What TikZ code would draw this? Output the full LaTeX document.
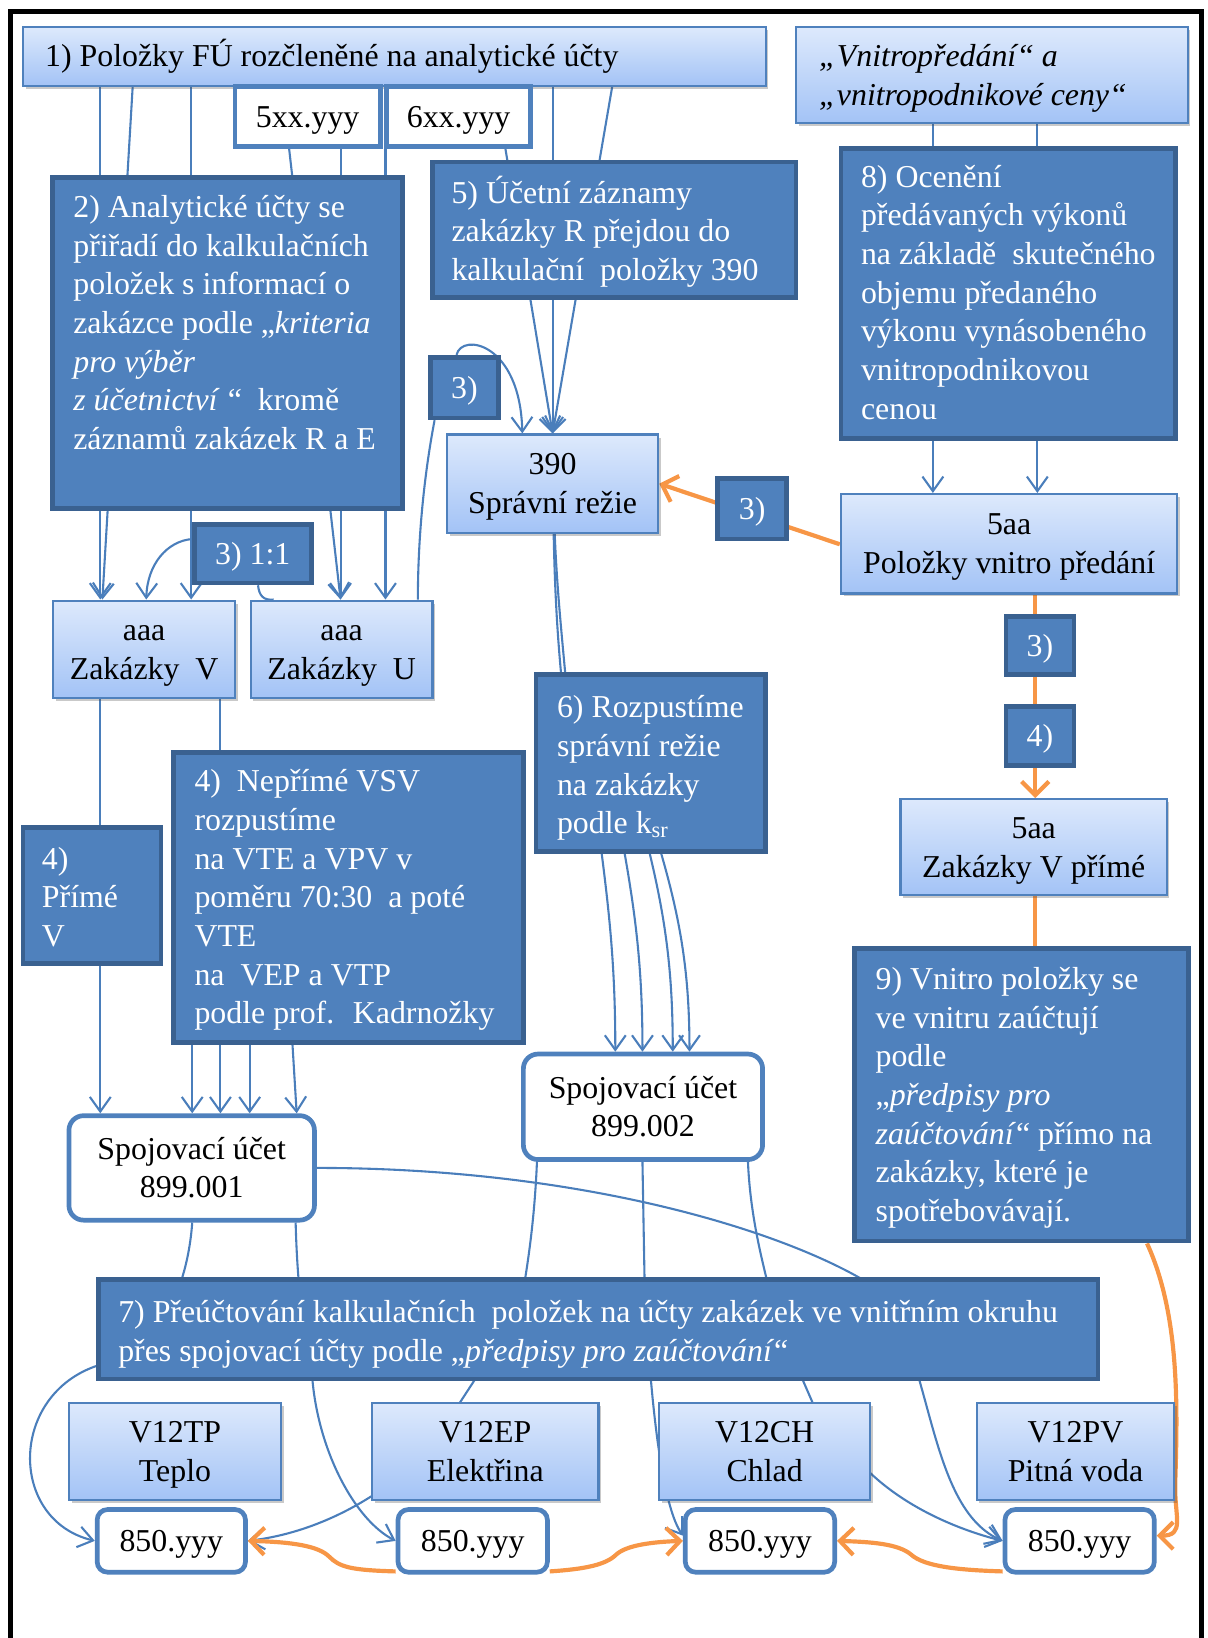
\documentclass[tikz,border=0pt]{standalone}
\usepackage{fontspec}
\setmainfont{Liberation Serif}
\usetikzlibrary{arrows.meta,fit,shadows}
\pgfdeclarelayer{bg}
\pgfsetlayers{bg,main}

\definecolor{darkfill}{HTML}{4F81BD}
\definecolor{darkedge}{HTML}{3A6190}
\definecolor{lighttop}{HTML}{DDE9FC}
\definecolor{lightbot}{HTML}{A3C3F6}
\definecolor{boxedge}{HTML}{4F81BD}
\definecolor{lineblue}{HTML}{4A7EBB}
\definecolor{orangeline}{HTML}{F79646}

\tikzset{
  txt/.style={font=\fontsize{30.5pt}{37pt}\selectfont, inner sep=0pt},
  darkbox/.style={draw=darkedge, line width=4.5pt, fill=darkfill, inner sep=0pt},
  lightbox/.style={draw=boxedge, line width=2.2pt, top color=lighttop, bottom color=lightbot, inner sep=0pt,
     drop shadow={shadow xshift=2.5pt, shadow yshift=-3pt, opacity=0.3, fill=black!70}},
  codebox/.style={draw=boxedge, line width=4.5pt, fill=white, inner sep=0pt},
  accbox/.style={codebox, rounded corners=14pt},
  notebox/.style={codebox, rounded corners=10pt},
  wtext/.style={txt, text=white, align=left, anchor=north west},
  btext/.style={txt, text=black, align=left},
  itext/.style={btext, font=\fontsize{30.5pt}{37pt}\selectfont\itshape},
  % centred captions: one line or two lines around the box centre
  cline/.style={txt, align=center, anchor=north, yshift=16pt},
  cpair/.style={txt, align=center, anchor=north, yshift=34.5pt},
  link/.style={draw=lineblue, line width=2pt},
  arr/.style={link, -{Straight Barb[length=14pt,width=20pt]}},
  olink/.style={draw=orangeline, line width=4pt},
  oarr/.style={olink, -{Straight Barb[length=13pt,width=26pt]}},
}

\begin{document}
\begin{tikzpicture}[x=1pt, y=-1pt]
\useasboundingbox (0,0) rectangle (1156,1568);

% outer frame
\draw[line width=5pt] (10,1570) -- (10,11) -- (1150,11) -- (1150,1570);

% ---------- boxes ----------
\node[lightbox, fit={(22,26) (733,82)}] (b1) {};
\node[btext, anchor=west] (b1t) at (43,54) {1) Položky FÚ rozčleněné na analytické účty};

\node[lightbox, fit={(762,26) (1137,118)}] (vn) {};
\node[itext, anchor=north west] (vnt) at (784,38) {\strut„Vnitropředání“ a\\„vnitropodnikové ceny“};

\node[codebox, fit={(225,83) (364,140)}] (c5) {};
\node[cline] (c5t) at (c5) {\strut 5xx.yyy};
\node[codebox, fit={(370,83) (508,140)}] (c6) {};
\node[cline] (c6t) at (c6) {\strut 6xx.yyy};

\node[darkbox, fit={(50,170) (385,487)}] (b2) {};
\node[wtext] (b2t) at (70,182) {\strut 2) Analytické účty se\\přiřadí do kalkulačních\\položek s informací o\\zakázce podle „\textit{kriteria}\\\textit{pro výběr}\\\textit{z účetnictví} “~ kromě\\záznamů zakázek R a E};

\node[darkbox, fit={(414,155) (762,285)}] (b5) {};
\node[wtext] (b5t) at (432,168) {\strut 5) Účetní záznamy\\zakázky R přejdou do\\kalkulační~ položky 390};

\node[darkbox, fit={(805,142) (1125,420)}] (b8) {};
\node[wtext] (b8t) at (824,153) {\strut 8) Ocenění\\předávaných výkonů\\na základě~ skutečného\\objemu předaného\\výkonu vynásobeného\\vnitropodnikovou\\cenou};

\node[darkbox, fit={(412,342) (477,400)}] (t3a) {};
\node[cline, text=white] (t3at) at (t3a) {\strut 3)};
\node[lightbox, fit={(428,416) (630,510)}] (n390) {};
\node[cpair] (n390t) at (n390) {\strut 390\\Správní režie};
\node[darkbox, fit={(687,458) (753,516)}] (t3b) {};
\node[cline, text=white] (t3bt) at (t3b) {\strut 3)};
\node[lightbox, fit={(805,473) (1127,568)}] (p5aa) {};
\node[cpair] (p5aat) at (p5aa) {\strut 5aa\\Položky vnitro předání};
\node[darkbox, fit={(186,502) (298,558)}] (t31) {};
\node[cline, text=white] (t31t) at (t31) {\strut 3) 1:1};
\node[lightbox, fit={(51,575) (225,668)}] (zakV) {};
\node[cpair] (zakVt) at (zakV) {\strut aaa\\Zakázky~ V};
\node[lightbox, fit={(240,575) (414,668)}] (zakU) {};
\node[cpair] (zakUt) at (zakU) {\strut aaa\\Zakázky~ U};
\node[darkbox, fit={(963,590) (1028,646)}] (t3c) {};
\node[cline, text=white] (t3ct) at (t3c) {\strut 3)};

\node[darkbox, fit={(513,646) (733,815)}] (b6) {};
\node[wtext] (b6t) at (533,661) {\strut 6) Rozpustíme\\správní režie\\na zakázky\\podle k\textsubscript{sr}};

\node[darkbox, fit={(963,676) (1028,733)}] (t4d) {};
\node[cline, text=white] (t4dt) at (t4d) {\strut 4)};
\node[lightbox, fit={(862,765) (1117,857)}] (v5aa) {};
\node[cpair] (v5aat) at (v5aa) {\strut 5aa\\Zakázky V přímé};

\node[darkbox, fit={(22,792) (154,922)}] (b4p) {};
\node[wtext] (b4pt) at (40,806) {\strut 4)\\Přímé\\V};

\node[darkbox, fit={(166,720) (501,998)}] (b4n) {};
\node[wtext] (b4nt) at (186,732) {\strut 4)~ Nepřímé VSV\\rozpustíme\\na VTE a VPV v\\poměru 70:30~ a poté\\VTE\\na~ VEP a VTP\\podle prof.~ Kadrnožky};

\node[darkbox, fit={(818,908) (1138,1188)}] (b9) {};
\node[wtext] (b9t) at (838,921) {\strut 9) Vnitro položky se\\ve vnitru zaúčtují\\podle\\„\textit{předpisy pro}\\\textit{zaúčtování}“ přímo na\\zakázky, které je\\spotřebovávají.};

\node[accbox, fit={(501,1009) (730,1110)}] (s2) {};
\node[cpair] (s2t) at (s2) {\strut Spojovací účet\\899.002};
\node[accbox, fit={(66,1068) (301,1168)}] (s1) {};
\node[cpair] (s1t) at (s1) {\strut Spojovací účet\\899.001};

\node[darkbox, fit={(94,1225) (1051,1320)}] (b7) {};
\node[wtext] (b7t) at (113,1240) {\strut 7) Přeúčtování kalkulačních~ položek na účty zakázek ve vnitřním okruhu\\přes spojovací účty podle „\textit{předpisy pro zaúčtování}“};

\node[lightbox, fit={(66,1343) (269,1436)}] (v1) {};
\node[cpair] (v1t) at (v1) {\strut V12TP\\Teplo};
\node[lightbox, fit={(356,1343) (573,1436)}] (v2) {};
\node[cpair] (v2t) at (v2) {\strut V12EP\\Elektřina};
\node[lightbox, fit={(631,1343) (833,1436)}] (v3) {};
\node[cpair] (v3t) at (v3) {\strut V12CH\\Chlad};
\node[lightbox, fit={(935,1343) (1124,1436)}] (v4) {};
\node[cpair] (v4t) at (v4) {\strut V12PV\\Pitná voda};

\node[notebox, fit={(93,1445) (235,1505)}] (a1) {};
\node[cline] (a1t) at (a1) {\strut 850.yyy};
\node[notebox, fit={(381,1445) (524,1505)}] (a2) {};
\node[cline] (a2t) at (a2) {\strut 850.yyy};
\node[notebox, fit={(656,1445) (799,1505)}] (a3) {};
\node[cline] (a3t) at (a3) {\strut 850.yyy};
\node[notebox, fit={(962,1445) (1105,1505)}] (a4) {};
\node[cline] (a4t) at (a4) {\strut 850.yyy};

% ---------- connectors (behind the boxes) ----------
\begin{pgfonlayer}{bg}
% analytic accounts to the orders
\draw[arr] (b1.south -| 96,0) -- (zakV.north -| 96,0);
\draw[arr] (b1.south -| 127,0) -- (zakV.north -| 98,0);
\draw[arr] (b1.south -| 183,0) -- (zakV.north -| 183,0);
\draw[arr] (b1.south -| 270,0) -- (zakU.north -| 326,0);
\draw[arr] (b1.south -| 326,0) -- (zakU.north -| 326,0);
\draw[arr] (b1.south -| 369,0) -- (zakU.north -| 369,0);
% R records to item 390
\draw[arr] (b1.south -| 474,0) -- (n390.north);
\draw[arr] (b1.south -| 529,0) -- (n390.north);
\draw[arr] (b1.south -| 586,0) -- (n390.north);
\draw[arr] (t3a.north -| 437,0) .. controls (442,318) and (498,328) .. (n390.north -| 500,0);
\draw[link] (t3a.south -| 416,0) .. controls (405,460) and (400,520) .. (zakU.north -| 400,0);
% 1:1 step
\draw[arr] (t31.west |- 0,516) .. controls (160,518) and (141,540) .. (zakV.north -| 140,0);
\draw[link] (t31.south -| 247,0) .. controls (248,570) and (252,575) .. (zakU.north -| 262,0);
% internal prices
\draw[arr] (vn.south -| 893,0) -- (p5aa.north -| 893,0);
\draw[arr] (vn.south -| 993,0) -- (p5aa.north -| 993,0);
% overheads dissolved
\draw[link] (n390.south -| 530,0) .. controls (531,560) and (533,600) .. (b6.north -| 537,0);
\draw[link] (n390.south -| 531,0) .. controls (533,560) and (537,600) .. (b6.north -| 541,0);
\draw[arr] (b6.south -| 576,0) .. controls (584,880) and (589,930) .. (s2.north -| 589,0);
\draw[arr] (b6.south -| 598,0) .. controls (609,880) and (615,930) .. (s2.north -| 615,0);
\draw[arr] (b6.south -| 622,0) .. controls (637,880) and (644,930) .. (s2.north -| 644,0);
\draw[arr] (b6.south -| 633,0) .. controls (651,880) and (660,930) .. (s2.north -| 660,0);
% direct and indirect costs
\draw[arr] (zakV.south -| 96,0) -- (s1.north -| 96,0);
\draw[arr] (zakV.south -| 211,0) -- (s1.north -| 211,0);
\draw[arr] (b4n.south -| 184,0) -- (s1.north -| 184,0);
\draw[arr] (b4n.south -| 239,0) -- (s1.north -| 239,0);
\draw[arr] (b4n.south -| 280,0) -- (s1.north -| 284,0);
% transfers to the order accounts
\draw[arr] (s1.south -| 184,0) .. controls (182,1200) and (170,1290) .. (94,1307)
   .. controls (8,1335) and (8,1455) .. (a1.west |- 0,1475);
\draw[arr] (s1.south -| 283,0) .. controls (285,1250) and (295,1300) .. (299,1320)
   .. controls (305,1390) and (340,1455) .. (a2.west |- 0,1475);
\draw[arr] (s1.east |- 0,1118) .. controls (550,1118) and (740,1175) .. (826,1225)
   .. controls (895,1265) and (880,1440) .. (a4.west |- 0,1475);
\draw[arr] (s2.south -| 514,0) .. controls (512,1160) and (507,1200) .. (500,1240)
   -- (455,1320) -- (440,1343) -- (356,1432)
   .. controls (320,1455) and (280,1470) .. (a1.east |- 0,1475);
\draw[arr] (s2.south -| 615,0) -- (617,1225) -- (623,1320)
   .. controls (630,1400) and (640,1450) .. (a3.west |- 0,1470);
\draw[arr] (s2.south -| 716,0) .. controls (718,1160) and (728,1200) .. (734,1225)
   -- (768,1320) -- (778,1343) -- (833,1410)
   .. controls (870,1445) and (920,1465) .. (a4.west |- 0,1475);
% internal transfers (orange)
\draw[oarr] (p5aa.west |- 0,521) -- (n390.east |- 0,463);
\draw[oarr] (p5aa.south -| 991,0) -- (v5aa.north -| 991,0);
\draw[olink] (v5aa.south -| 991,0) -- (b9.north -| 991,0);
\draw[oarr] (b9.south -| 1098,0) .. controls (1130,1260) and (1127,1350) .. (1125,1420)
   .. controls (1124,1452) and (1135,1470) .. (a4.east |- 0,1470);
\draw[oarr] ([yshift=3pt]a2.south west) .. controls (335,1503) and (325,1500) .. (315,1490)
   .. controls (305,1480) and (280,1476) .. (a1.east |- 0,1475);
\draw[oarr] ([yshift=3pt]a2.south east) .. controls (560,1502) and (580,1498) .. (590,1488)
   .. controls (600,1479) and (625,1476) .. (a3.west |- 0,1475);
\draw[oarr] ([yshift=3pt]a4.south west) .. controls (920,1503) and (885,1500) .. (872,1488)
   .. controls (860,1478) and (835,1476) .. (a3.east |- 0,1475);
\end{pgfonlayer}
\end{tikzpicture}
\end{document}
